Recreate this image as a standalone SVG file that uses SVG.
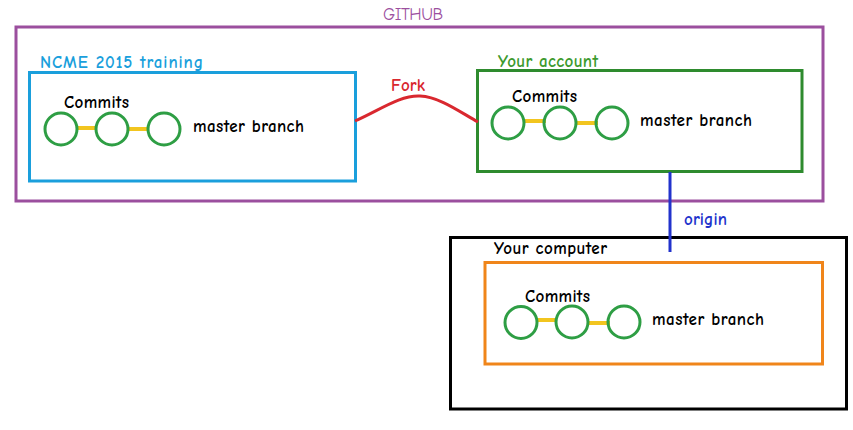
<svg xmlns="http://www.w3.org/2000/svg" width="853" height="430" viewBox="0 0 853 430">
<style>
text{font-family:"Comic Sans MS","Comic Neue","Liberation Sans","DejaVu Sans",sans-serif;font-size:17px;font-weight:bold}
.box{fill:none;stroke-width:3}
.c{fill:none;stroke:#2e9e44;stroke-width:3}
.l{stroke:#f2c51f;stroke-width:4}
.k{fill:#000}
</style>
<rect width="853" height="430" fill="#fff"/>
<g id="github">
<rect class="box" x="16" y="27" width="807" height="174" stroke="#9b4f9e"/>
<text x="383" y="20" fill="#9b4f9e" textLength="60" style="font-weight:normal">GITHUB</text>
</g>
<g id="ncme">
<rect class="box" x="29.5" y="72.5" width="326" height="108.5" stroke="#1a9fdc"/>
<text x="40" y="68" fill="#1a9fdc" textLength="163">NCME 2015 training</text>
<text class="k" x="64" y="108" textLength="65">Commits</text>
<line class="l" x1="77" y1="128" x2="96" y2="128"/>
<line class="l" x1="128" y1="129" x2="148" y2="129"/>
<circle class="c" cx="61" cy="129" r="16"/>
<circle class="c" cx="112" cy="129" r="16"/>
<circle class="c" cx="164" cy="129" r="16"/>
<text class="k" x="193" y="132" textLength="111">master branch</text>
</g>
<g id="account">
<rect class="box" x="477.5" y="70.5" width="324.5" height="101" stroke="#2e8b2e"/>
<text x="498" y="67" fill="#3d9a2e" textLength="100">Your account</text>
<text class="k" x="512" y="102" textLength="65">Commits</text>
<line class="l" x1="523" y1="121" x2="546" y2="121"/>
<line class="l" x1="576" y1="123" x2="598" y2="123"/>
<circle class="c" cx="508" cy="123" r="16"/>
<circle class="c" cx="560" cy="123" r="16"/>
<circle class="c" cx="612" cy="123" r="16"/>
<text class="k" x="640" y="126" textLength="112">master branch</text>
</g>
<g id="computer">
<rect class="box" x="450.5" y="237.5" width="396" height="171.5" stroke="#000"/>
<text class="k" x="494" y="254" textLength="113">Your computer</text>
<rect class="box" x="485" y="262.5" width="337.5" height="101.5" stroke="#f0851a"/>
<text class="k" x="525" y="302" textLength="65">Commits</text>
<line class="l" x1="536" y1="320" x2="557" y2="320"/>
<line class="l" x1="588" y1="323" x2="610" y2="323"/>
<circle class="c" cx="521" cy="322.5" r="16"/>
<circle class="c" cx="572" cy="322" r="16"/>
<circle class="c" cx="624" cy="322" r="16"/>
<text class="k" x="652" y="325" textLength="112">master branch</text>
</g>
<g id="connectors">
<path d="M355,121 C380,110 400,95 420,96 C440,97 460,112 478,122" fill="none" stroke="#d9282f" stroke-width="3"/>
<text x="391" y="91" fill="#d9282f" textLength="34">Fork</text>
<line x1="670" y1="172" x2="670" y2="252" stroke="#2233cc" stroke-width="3"/>
<text x="684" y="225" fill="#2233cc" textLength="43">origin</text>
</g>
</svg>
